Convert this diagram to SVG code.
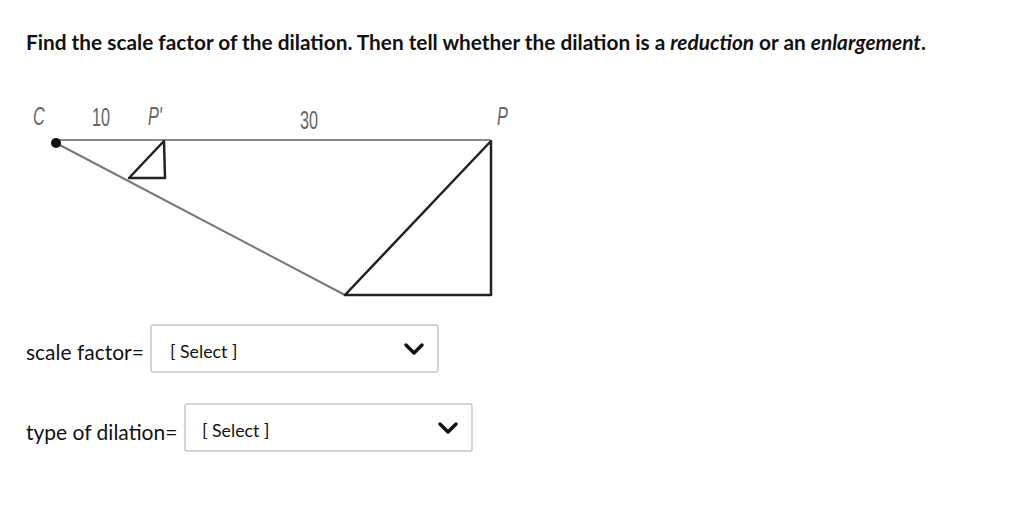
<svg xmlns="http://www.w3.org/2000/svg" width="1024" height="523" viewBox="0 0 1024 523">
<style>
.t{font-family:Lato,"Open Sans",sans-serif;fill:#111}
.lbl{font-family:"Liberation Sans",sans-serif;fill:#666;font-size:25px}
.box{fill:#fff;stroke:#c8c8c8;stroke-width:1.5}
.chev{fill:none;stroke:#111;stroke-width:3.5;stroke-linecap:round;stroke-linejoin:round}
</style>
<rect width="1024" height="523" fill="#fff"/>
<text class="t" x="26" y="50" font-size="20.8" font-weight="bold">Find the scale factor of the dilation. Then tell whether the dilation is a <tspan font-style="italic">reduction</tspan> or an <tspan font-style="italic">enlargement</tspan>.</text>
<g id="figure">
<line x1="58" y1="140" x2="490" y2="140" stroke="#8a8a8a" stroke-width="2"/>
<line x1="56" y1="143" x2="345" y2="295" stroke="#777" stroke-width="2"/>
<polygon points="164,141 129,178 165,178" fill="none" stroke="#222" stroke-width="2.5" stroke-linejoin="round"/>
<polygon points="491,141 345,295 491,295" fill="none" stroke="#222" stroke-width="2.5" stroke-linejoin="round"/>
<circle cx="56" cy="143" r="5" fill="#111"/>
</g>
<g id="labels">
<text class="lbl" x="33" y="125" font-style="italic" transform="translate(33 0) scale(0.65 1) translate(-33 0)">C</text>
<text class="lbl" x="92" y="126" transform="translate(92 0) scale(0.65 1) translate(-92 0)">10</text>
<text class="lbl" x="148" y="125" font-style="italic" transform="translate(148 0) scale(0.65 1) translate(-148 0)">P'</text>
<text class="lbl" x="300" y="129" transform="translate(300 0) scale(0.65 1) translate(-300 0)">30</text>
<text class="lbl" x="497" y="125" font-style="italic" transform="translate(497 0) scale(0.65 1) translate(-497 0)">P</text>
</g>
<g id="scale-factor">
<text class="t" x="26" y="360" font-size="21">scale factor=</text>
<rect class="box" x="151" y="325" width="287" height="47" rx="2"/>
<text class="t" x="170" y="358" font-size="17.8">[ Select ]</text>
<polyline class="chev" points="406,345 414,353 422,345"/>
</g>
<g id="type-of-dilation">
<text class="t" x="26" y="440" font-size="21">type of dilation=</text>
<rect class="box" x="185" y="404" width="287" height="47" rx="2"/>
<text class="t" x="202" y="437" font-size="17.8">[ Select ]</text>
<polyline class="chev" points="440,424 448,432 456,424"/>
</g>
</svg>
